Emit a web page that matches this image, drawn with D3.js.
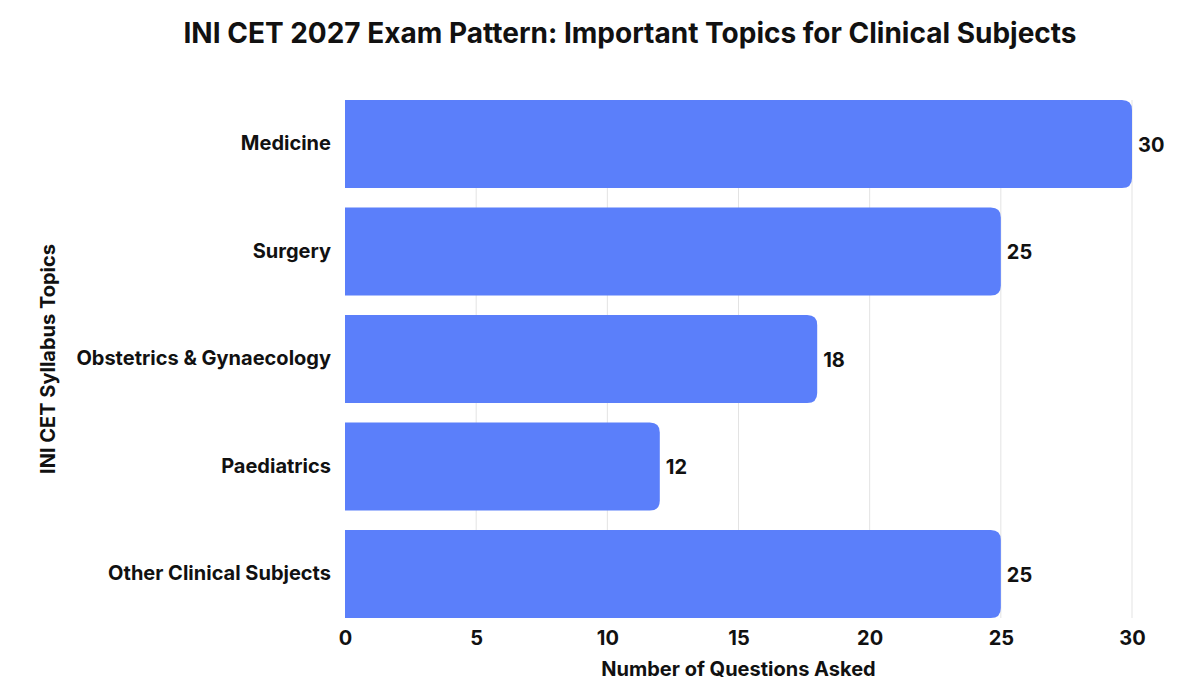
<!DOCTYPE html>
<html>
<head>
<meta charset="utf-8">
<script src="https://cdn.jsdelivr.net/npm/d3@7"></script>
<style>
  body { margin: 0; background: #fff; }
  text { font-family: "Inter", "Noto Sans", sans-serif; fill: #111; }
</style>
</head>
<body>
<svg id="chart" width="1200" height="696"></svg>
<script>
// chart data
var categories = ["Medicine", "Surgery", "Obstetrics & Gynaecology", "Paediatrics", "Other Clinical Subjects"];
var questions = [30, 25, 18, 12, 25];
var xTicks = [0, 5, 10, 15, 20, 25, 30];

var svg = d3.select("#chart");
var margin = {top: 100, right: 68, bottom: 78, left: 345};
var width = 1200 - margin.left - margin.right,
    height = 696 - margin.top - margin.bottom;

var x = d3.scaleLinear().domain([0, 30]).range([0, width]);
var y = d3.scaleBand().domain(categories).range([0, height])
    .paddingInner(0.181).paddingOuter(0);

var g = svg.append("g")
    .attr("transform", "translate(" + margin.left + "," + margin.top + ")");

// vertical grid lines
g.selectAll(".grid")
    .data(xTicks.slice(1))
  .enter().append("line")
    .attr("class", "grid")
    .attr("x1", function(d) { return x(d); })
    .attr("x2", function(d) { return x(d); })
    .attr("y1", 0)
    .attr("y2", height)
    .attr("stroke", "#e3e3e3")
    .attr("stroke-width", 1);

// bars, square on the left, rounded on the right
var r = 10;
function barPath(d, i) {
    var x0 = x(0), x1 = x(d), y0 = y(categories[i]), h = y.bandwidth();
    return "M" + x0 + "," + y0
      + "H" + (x1 - r)
      + "Q" + x1 + "," + y0 + " " + x1 + "," + (y0 + r)
      + "V" + (y0 + h - r)
      + "Q" + x1 + "," + (y0 + h) + " " + (x1 - r) + "," + (y0 + h)
      + "H" + x0 + "Z";
}

g.selectAll(".bar")
    .data(questions)
  .enter().append("path")
    .attr("class", "bar")
    .attr("d", barPath)
    .attr("fill", "#5b7ffa");

// value labels
g.selectAll(".value")
    .data(questions)
  .enter().append("text")
    .attr("class", "value")
    .attr("x", function(d) { return x(d) + 6; })
    .attr("y", function(d, i) { return y(categories[i]) + y.bandwidth() / 2; })
    .attr("dy", "0.38em")
    .style("font-size", "20px")
    .style("font-weight", "700")
    .text(function(d) { return d; });

// x axis
var xAxis = g.append("g")
    .attr("transform", "translate(0," + height + ")")
    .call(d3.axisBottom(x).tickValues(xTicks).tickSize(0).tickPadding(10));
xAxis.select(".domain").remove();
xAxis.selectAll("text")
    .style("font-size", "20px")
    .style("font-weight", "700")
    .attr("fill", "#111")
    .attr("dy", "0.85em");

// y axis
var yAxis = g.append("g")
    .call(d3.axisLeft(y).tickSize(0).tickPadding(14));
yAxis.select(".domain").remove();
yAxis.selectAll("text")
    .style("font-size", "20px")
    .style("font-weight", "700")
    .attr("fill", "#111");

// titles
svg.append("text")
    .attr("x", 630)
    .attr("y", 43)
    .attr("text-anchor", "middle")
    .style("font-size", "28px")
    .style("font-weight", "700")
    .text("INI CET 2027 Exam Pattern: Important Topics for Clinical Subjects");

svg.append("text")
    .attr("x", margin.left + width / 2)
    .attr("y", 676)
    .attr("text-anchor", "middle")
    .style("font-size", "20px")
    .style("font-weight", "700")
    .text("Number of Questions Asked");

svg.append("text")
    .attr("transform", "translate(55," + (margin.top + height / 2) + ") rotate(-90)")
    .attr("text-anchor", "middle")
    .style("font-size", "20px")
    .style("font-weight", "700")
    .text("INI CET Syllabus Topics");
</script>
</body>
</html>
